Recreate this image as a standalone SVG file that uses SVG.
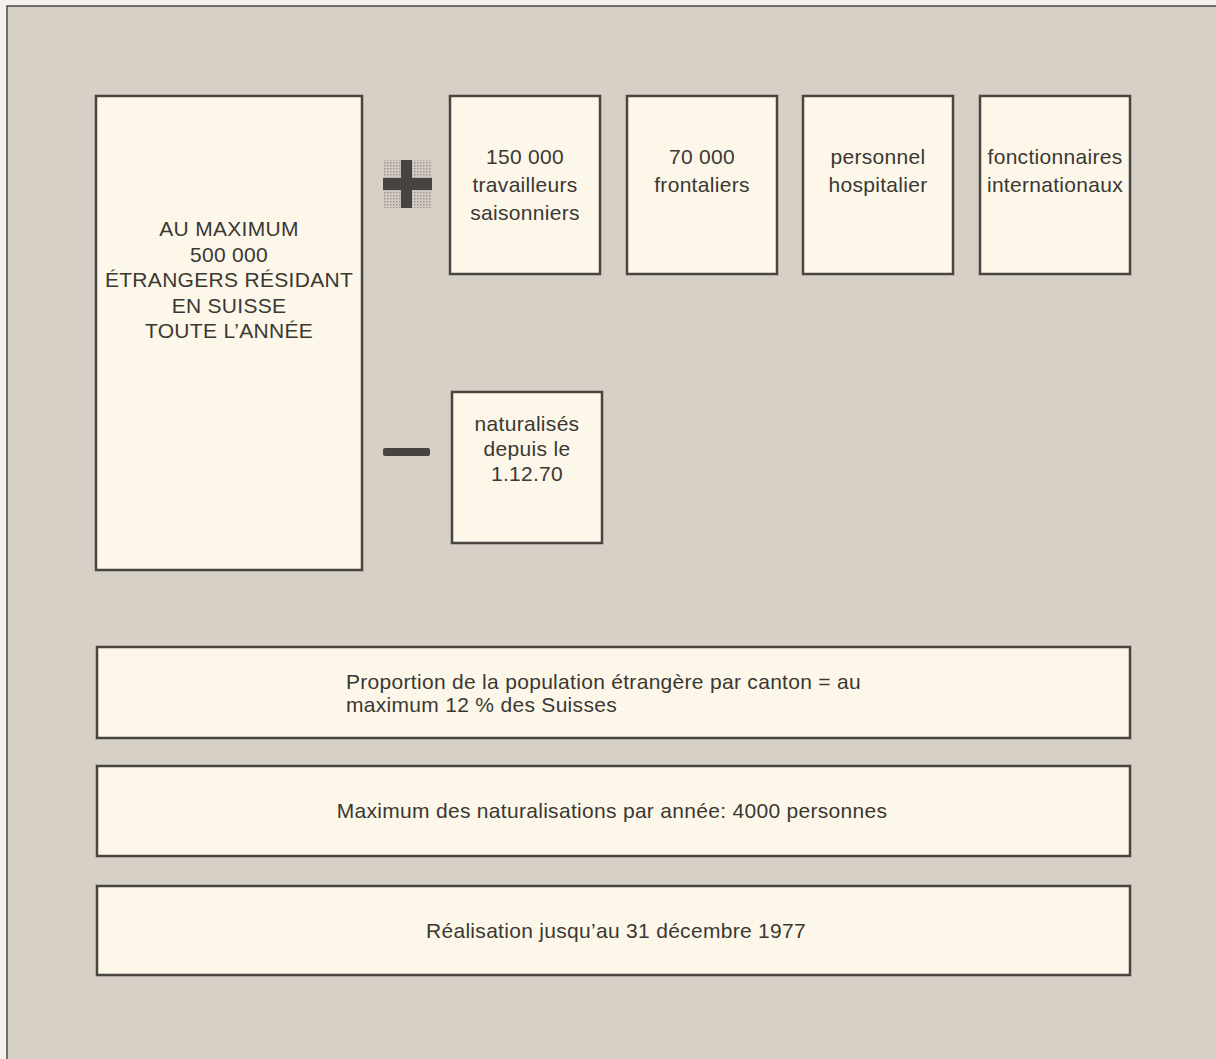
<svg xmlns="http://www.w3.org/2000/svg" width="1216" height="1059" viewBox="0 0 1216 1059">
  <style>
    .box { fill: #fcf7e9; stroke: #4a4540; stroke-width: 2.5; }
    .t { font-family: "Liberation Sans", Arial, sans-serif; font-size: 21px; fill: #3b3733; letter-spacing: 0.3px; }
    .c { text-anchor: middle; }
    .op { fill: #474340; }
  </style>
  <defs>
    <pattern id="stip" width="3" height="3" patternUnits="userSpaceOnUse">
      <rect width="3" height="3" fill="#d2ccc3"/>
      <rect x="0" y="0" width="1.5" height="1.5" fill="#9d978f"/>
    </pattern>
  </defs>

  <rect x="0" y="0" width="1216" height="1059" fill="#f4f1ec"/>
  <rect id="frame" x="7" y="6" width="1215" height="1060" fill="#d6d0c6" stroke="#4d4843" stroke-width="1.5"/>

  <g id="operators">
    <g id="plus">
      <rect x="383" y="160" width="49" height="48" fill="url(#stip)"/>
      <rect class="op" x="383" y="178" width="49" height="12"/>
      <rect class="op" x="401" y="160" width="11" height="48"/>
    </g>
    <g id="minus">
      <rect class="op" x="383" y="448" width="47" height="8" rx="2"/>
    </g>
  </g>

  <g id="connectors"></g>

  <g id="node-max">
    <rect class="box" x="96" y="96" width="266" height="474"/>
    <text class="t c" x="229" y="236">AU MAXIMUM</text>
    <text class="t c" x="229" y="261.5">500 000</text>
    <text class="t c" x="229" y="287">ÉTRANGERS RÉSIDANT</text>
    <text class="t c" x="229" y="312.5">EN SUISSE</text>
    <text class="t c" x="229" y="338">TOUTE L’ANNÉE</text>
  </g>

  <g id="node-saisonniers">
    <rect class="box" x="450" y="96" width="150" height="178"/>
    <text class="t c" x="525" y="164">150 000</text>
    <text class="t c" x="525" y="192">travailleurs</text>
    <text class="t c" x="525" y="220">saisonniers</text>
  </g>

  <g id="node-frontaliers">
    <rect class="box" x="627" y="96" width="150" height="178"/>
    <text class="t c" x="702" y="164">70 000</text>
    <text class="t c" x="702" y="192">frontaliers</text>
  </g>

  <g id="node-hospitalier">
    <rect class="box" x="803" y="96" width="150" height="178"/>
    <text class="t c" x="878" y="164">personnel</text>
    <text class="t c" x="878" y="192">hospitalier</text>
  </g>

  <g id="node-fonctionnaires">
    <rect class="box" x="980" y="96" width="150" height="178"/>
    <text class="t c" x="1055" y="164">fonctionnaires</text>
    <text class="t c" x="1055" y="192">internationaux</text>
  </g>

  <g id="node-naturalises">
    <rect class="box" x="452" y="392" width="150" height="151"/>
    <text class="t c" x="527" y="431">naturalisés</text>
    <text class="t c" x="527" y="456">depuis le</text>
    <text class="t c" x="527" y="481">1.12.70</text>
  </g>

  <g id="node-proportion">
    <rect class="box" x="97" y="647" width="1033" height="91"/>
    <text class="t" x="346" y="689">Proportion de la population étrangère par canton = au</text>
    <text class="t" x="346" y="712">maximum 12 % des Suisses</text>
  </g>

  <g id="node-naturalisations">
    <rect class="box" x="97" y="766" width="1033" height="90"/>
    <text class="t c" x="612" y="818">Maximum des naturalisations par année: 4000 personnes</text>
  </g>

  <g id="node-realisation">
    <rect class="box" x="97" y="886" width="1033" height="89"/>
    <text class="t c" x="616" y="938">Réalisation jusqu’au 31 décembre 1977</text>
  </g>
</svg>
